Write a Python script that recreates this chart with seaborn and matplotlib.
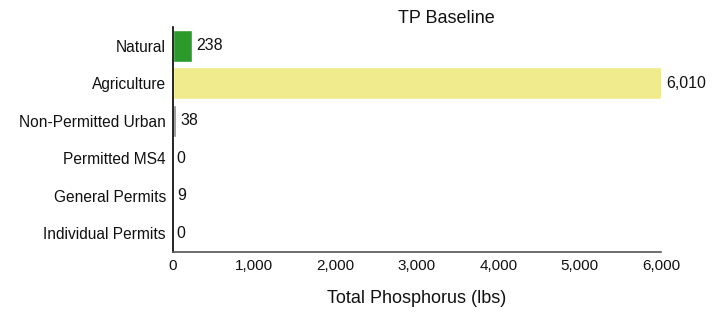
import matplotlib
matplotlib.use("Agg")
import matplotlib.pyplot as plt
import seaborn as sns
import pandas as pd
from matplotlib.ticker import FuncFormatter

categories = ["Natural", "Agriculture", "Non-Permitted Urban", "Permitted MS4",
              "General Permits", "Individual Permits"]
values = [238, 6010, 38, 0, 9, 0]
colors = ["#2b9a2b", "#f0eb8c", "#8c8c8c", "#8c8c8c", "#8c8c8c", "#8c8c8c"]

df = pd.DataFrame({"source": categories, "tp": values})

sns.set_style("white")
plt.rcParams["font.family"] = ["Liberation Sans", "DejaVu Sans"]

fig = plt.figure(figsize=(7.17, 3.13), dpi=100)
ax = fig.add_axes([0.241, 0.195, 0.681, 0.719])

sns.barplot(data=df, y="source", x="tp", hue="source", palette=dict(zip(categories, colors)),
            orient="h", width=0.85, legend=False, ax=ax, saturation=1)

# value labels just past the bar end
for i, v in enumerate(values):
    ax.text(v + 50, i, f"{v:,}", va="center", ha="left", fontsize=11.5, color="#111111")

ax.set_xlim(0, 6000)
ax.set_ylim(5.5, -0.5)
ax.xaxis.set_major_formatter(FuncFormatter(lambda x, p: f"{int(x):,}"))
ax.set_xticks(range(0, 6001, 1000))
ax.set_ylabel("")
ax.set_xlabel("Total Phosphorus (lbs)", fontsize=13, labelpad=12, color="#111111")
ax.set_title("TP Baseline", fontsize=13, pad=3, color="#111111", x=0.561)

ax.tick_params(axis="x", length=3, width=1, color="#555555", labelsize=11, labelcolor="#111111", pad=2)
ax.tick_params(axis="y", length=0, labelsize=11.2, labelcolor="#111111", pad=5)

sns.despine(ax=ax)
ax.spines["left"].set_color("black")
ax.spines["left"].set_linewidth(1.2)
ax.spines["bottom"].set_color("#555555")
ax.spines["bottom"].set_linewidth(1.2)

fig.savefig("out.png", dpi=100)
